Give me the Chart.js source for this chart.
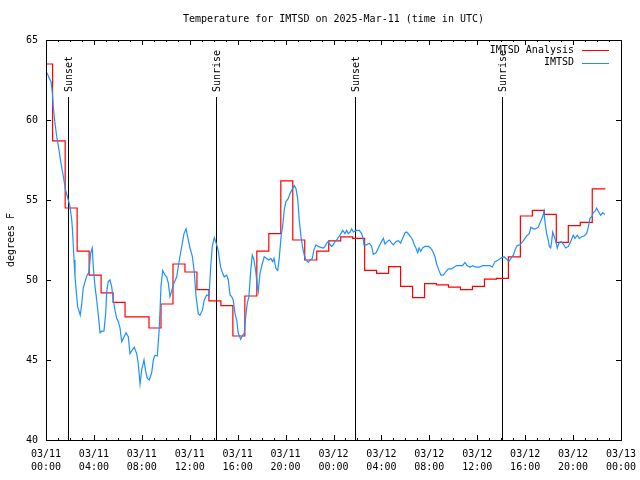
<!DOCTYPE html>
<html>
<head>
<meta charset="utf-8">
<title>Temperature for IMTSD on 2025-Mar-11</title>
<script src="https://cdn.jsdelivr.net/npm/chart.js@4.4.1/dist/chart.umd.min.js"></script>
<style>
  html, body { margin: 0; padding: 0; background: #fff; }
  canvas { display: block; }
</style>
</head>
<body>
<canvas id="myChart" width="640" height="480"></canvas>
<script>
const chartTitle = 'Temperature for IMTSD on 2025-Mar-11 (time in UTC)';
const yTitle = 'degrees F';

// x axis: hours since 03/11 00:00 UTC, labelled every 4 hours
const xTickLabels = [
    ['03/11', '00:00'], ['03/11', '04:00'], ['03/11', '08:00'], ['03/11', '12:00'],
    ['03/11', '16:00'], ['03/11', '20:00'], ['03/12', '00:00'], ['03/12', '04:00'],
    ['03/12', '08:00'], ['03/12', '12:00'], ['03/12', '16:00'], ['03/12', '20:00'],
    ['03/13', '00:00']
];

const sunHours = [1.85, 14.15, 25.8, 38.1];
const sunLabels = ['Sunset', 'Sunrise', 'Sunset', 'Sunrise'];

// IMTSD Analysis (hourly steps)
const redHours = [0, 0.55, 1.6, 2.6, 3.6, 4.6, 5.6, 6.6, 8.6, 9.6,
    10.6, 11.6, 12.6, 13.6, 14.6, 15.6, 16.6, 17.6, 18.6, 19.6,
    20.6, 21.6, 22.6, 23.6, 24.6, 25.6, 26.6, 27.6, 28.6, 29.6,
    30.6, 31.6, 32.6, 33.6, 34.6, 35.6, 36.6, 37.6, 38.6, 39.6,
    40.6, 41.6, 42.6, 43.6, 44.6, 45.6, 46.7];
const redTemps = [63.5, 58.7, 54.5, 51.8, 50.3, 49.2, 48.6, 47.7, 47.0, 48.5,
    51.0, 50.5, 49.4, 48.7, 48.4, 46.5, 49.0, 51.8, 52.9, 56.2,
    52.5, 51.25, 51.8, 52.45, 52.7, 52.6, 50.6, 50.42, 50.83, 49.6,
    48.9, 49.77, 49.7, 49.55, 49.4, 49.6, 50.05, 50.1, 51.45, 54.0,
    54.35, 54.1, 52.35, 53.4, 53.6, 55.7, 55.7];

// IMTSD observations
const blueHours = [
    0.00, 0.11, 0.28, 0.42, 0.53, 0.61, 0.75, 0.89, 1.09, 1.25,
    1.44, 1.64, 1.86, 2.00, 2.15, 2.23, 2.34, 2.42, 2.56, 2.65,
    2.78, 2.86, 2.98, 3.11, 3.26, 3.40, 3.59, 3.73, 3.86, 3.95,
    4.09, 4.23, 4.37, 4.51, 4.65, 4.84, 4.98, 5.07, 5.20, 5.34,
    5.48, 5.62, 5.76, 5.90, 6.04, 6.18, 6.32, 6.45, 6.68, 6.87,
    7.01, 7.18, 7.37, 7.57, 7.70, 7.85, 7.99, 8.18, 8.32, 8.46,
    8.62, 8.82, 8.96, 9.10, 9.29, 9.43, 9.52, 9.60, 9.74, 9.93,
    10.08, 10.21, 10.35, 10.49, 10.63, 10.91, 11.13, 11.33, 11.52, 11.69,
    11.83, 12.02, 12.21, 12.38, 12.52, 12.71, 12.85, 13.05, 13.21, 13.41,
    13.61, 13.75, 13.88, 14.05, 14.25, 14.38, 14.58, 14.75, 14.88, 15.08,
    15.22, 15.36, 15.50, 15.63, 15.78, 15.92, 16.05, 16.25, 16.42, 16.55,
    16.67, 16.80, 16.94, 17.09, 17.22, 17.36, 17.50, 17.64, 17.72, 17.86,
    18.05, 18.22, 18.42, 18.61, 18.76, 18.92, 19.03, 19.20, 19.34, 19.47,
    19.62, 19.76, 19.89, 20.03, 20.23, 20.37, 20.51, 20.73, 20.87, 21.01,
    21.14, 21.29, 21.43, 21.56, 21.70, 21.90, 22.04, 22.23, 22.37, 22.54,
    22.73, 22.93, 23.15, 23.29, 23.43, 23.56, 23.71, 23.85, 23.98, 24.12,
    24.26, 24.54, 24.77, 24.96, 25.10, 25.23, 25.38, 25.52, 25.65, 25.93,
    26.15, 26.35, 26.49, 26.54, 26.77, 26.99, 27.19, 27.32, 27.55, 27.74,
    27.94, 28.16, 28.30, 28.49, 28.66, 28.86, 28.99, 29.22, 29.41, 29.61,
    29.77, 29.97, 30.11, 30.24, 30.44, 30.61, 30.74, 30.88, 31.03, 31.14,
    31.28, 31.44, 31.64, 31.91, 32.11, 32.28, 32.47, 32.61, 32.80, 32.97,
    33.16, 33.36, 33.58, 33.86, 34.06, 34.28, 34.56, 34.78, 34.97, 35.17,
    35.39, 35.62, 35.89, 36.17, 36.45, 36.79, 37.06, 37.25, 37.48, 37.76,
    38.04, 38.23, 38.46, 38.65, 38.81, 39.01, 39.17, 39.34, 39.57, 39.79,
    39.98, 40.18, 40.34, 40.48, 40.68, 40.88, 41.09, 41.29, 41.46, 41.57,
    41.65, 41.79, 41.93, 42.01, 42.13, 42.21, 42.30, 42.43, 42.57, 42.68,
    42.82, 42.99, 43.18, 43.38, 43.60, 43.80, 44.01, 44.16, 44.35, 44.52,
    44.72, 44.91, 45.13, 45.27, 45.41, 45.55, 45.68, 45.83, 45.97, 46.10,
    46.30, 46.47, 46.66
];
const blueTemps = [
    63.0, 62.9, 62.6, 62.4, 61.7, 60.8, 59.8, 59.0, 58.1, 57.3,
    56.5, 55.6, 55.0, 54.6, 53.75, 52.9, 51.25, 50.2, 49.0, 48.3,
    48.0, 47.8, 48.5, 49.5, 49.9, 50.25, 50.5, 51.7, 52.0, 50.8,
    49.6, 48.75, 47.8, 46.7, 46.8, 46.8, 47.9, 49.3, 49.9, 50.0,
    49.6, 48.75, 48.1, 47.6, 47.4, 47.0, 46.15, 46.35, 46.7, 46.45,
    45.4, 45.6, 45.8, 45.4, 44.8, 43.5, 44.4, 45.0, 44.3, 43.85,
    43.75, 44.2, 45.0, 45.3, 45.25, 46.7, 48.1, 49.6, 50.6, 50.3,
    50.2, 49.8, 48.96, 49.3, 49.7, 50.2, 51.25, 52.1, 52.9, 53.2,
    52.7, 52.0, 51.5, 50.5, 49.0, 47.9, 47.8, 48.1, 48.75, 49.06,
    49.0, 50.8, 52.1, 52.65, 52.2, 51.8, 50.8, 50.4, 50.2, 50.3,
    50.0, 49.06, 48.96, 48.75, 47.9, 47.5, 46.67, 46.3, 46.56, 46.67,
    47.7, 48.54, 48.96, 50.6, 51.56, 51.25, 50.6, 49.6, 49.27, 50.4,
    51.0, 51.46, 51.35, 51.25, 51.35, 51.15, 51.35, 50.7, 50.6, 51.35,
    52.7, 53.4, 54.4, 54.9, 55.1, 55.4, 55.6, 55.9, 55.7, 55.1,
    53.75, 52.7, 52.0, 51.56, 51.25, 51.1, 51.25, 51.35, 51.9, 52.2,
    52.1, 52.04, 52.0, 52.1, 52.3, 52.4, 52.2, 52.1, 52.2, 52.4,
    52.5, 52.8, 53.1, 52.9, 53.1, 52.9, 53.0, 53.2, 53.0, 53.1,
    53.1, 52.9, 52.5, 52.2, 52.2, 52.3, 52.1, 51.6, 51.7, 52.0,
    52.3, 52.6, 52.25, 52.4, 52.5, 52.3, 52.2, 52.4, 52.45, 52.3,
    52.6, 52.95, 53.0, 52.9, 52.7, 52.5, 52.2, 52.0, 51.7, 52.0,
    51.8, 52.0, 52.1, 52.1, 52.0, 51.8, 51.45, 51.0, 50.6, 50.3,
    50.3, 50.5, 50.7, 50.7, 50.8, 50.9, 50.9, 50.9, 51.1, 50.9,
    50.8, 50.9, 50.8, 50.8, 50.9, 50.9, 50.9, 50.8, 51.15, 51.25,
    51.4, 51.45, 51.3, 51.15, 51.35, 51.55, 51.9, 52.15, 52.2, 52.4,
    52.6, 52.8, 52.9, 53.3, 53.2, 53.2, 53.3, 53.65, 53.95, 54.3,
    53.65, 52.9, 52.5, 52.1, 52.0, 52.4, 53.0, 52.7, 52.4, 52.0,
    52.3, 52.4, 52.25, 52.0, 52.1, 52.4, 52.8, 52.6, 52.8, 52.6,
    52.7, 52.75, 52.9, 53.3, 53.85, 53.95, 54.2, 54.3, 54.5, 54.3,
    54.05, 54.2, 54.1
];

const RED = '#ff0000';
const BLUE = '#1e90ff';
const FONT_FAMILY = '"DejaVu Sans Mono", "Liberation Mono", monospace';
const FONT = '10px ' + FONT_FAMILY;

const toPoints = (hours, temps) => hours.map((h, i) => ({ x: h, y: temps[i] }));

// gnuplot-ish extras: border with inward ticks, sun lines, title, legend
const gnuplotBits = {
    id: 'gnuplotBits',
    beforeDatasetsDraw(chart) {
        const { ctx, chartArea: a, scales: { x } } = chart;
        ctx.save();
        ctx.strokeStyle = '#000';
        ctx.fillStyle = '#000';
        ctx.lineWidth = 1;
        ctx.font = FONT;
        sunHours.forEach((h, i) => {
            const px = Math.round(x.getPixelForValue(h)) + 0.5;
            ctx.beginPath();
            ctx.moveTo(px, a.bottom);
            ctx.lineTo(px, a.top + 57);
            ctx.stroke();
            ctx.save();
            ctx.translate(px + 1, a.top + 52);
            ctx.rotate(-Math.PI / 2);
            ctx.textAlign = 'left';
            ctx.textBaseline = 'middle';
            ctx.fillText(sunLabels[i], 0, 0);
            ctx.restore();
        });
        ctx.restore();
    },
    afterDraw(chart) {
        const { ctx, chartArea: a, scales: { x, y } } = chart;
        ctx.save();
        ctx.strokeStyle = '#000';
        ctx.fillStyle = '#000';
        ctx.lineWidth = 1;

        // border
        ctx.strokeRect(a.left + 0.5, a.top + 0.5, a.right - a.left, a.bottom - a.top);

        // x ticks, every hour, longer every 4 hours, mirrored on top
        ctx.beginPath();
        for (let h = 0; h <= 48; h++) {
            const px = Math.round(x.getPixelForValue(h)) + 0.5;
            const len = h % 4 === 0 ? 5 : 2;
            ctx.moveTo(px, a.bottom);
            ctx.lineTo(px, a.bottom - len);
            ctx.moveTo(px, a.top);
            ctx.lineTo(px, a.top + len);
        }
        // y ticks, mirrored on right
        y.ticks.forEach(t => {
            const py = Math.round(y.getPixelForValue(t.value)) + 0.5;
            ctx.moveTo(a.left, py);
            ctx.lineTo(a.left + 5, py);
            ctx.moveTo(a.right, py);
            ctx.lineTo(a.right - 5, py);
        });
        ctx.stroke();

        ctx.font = FONT;
        // title
        ctx.textAlign = 'center';
        ctx.textBaseline = 'middle';
        ctx.fillText(chartTitle, (a.left + a.right) / 2, 19);

        // y axis title
        ctx.save();
        ctx.translate(11, (a.top + a.bottom) / 2);
        ctx.rotate(-Math.PI / 2);
        ctx.fillText(yTitle, 0, 0);
        ctx.restore();

        // legend
        chart.data.datasets.forEach((ds, i) => {
            const ly = a.top + 10 + i * 12.5;
            ctx.textAlign = 'right';
            ctx.fillStyle = '#000';
            ctx.fillText(ds.label, a.right - 47, ly);
            ctx.strokeStyle = ds.borderColor;
            ctx.beginPath();
            ctx.moveTo(a.right - 39, Math.round(ly) + 0.5);
            ctx.lineTo(a.right - 12, Math.round(ly) + 0.5);
            ctx.stroke();
        });
        ctx.restore();
    }
};

const ctx = document.getElementById('myChart').getContext('2d');
new Chart(ctx, {
    type: 'line',
    data: {
        datasets: [{
            label: 'IMTSD Analysis',
            data: toPoints(redHours, redTemps),
            borderColor: RED,
            borderWidth: 1.2,
            pointRadius: 0,
            stepped: true,
            fill: false,
            order: 1
        }, {
            label: 'IMTSD',
            data: toPoints(blueHours, blueTemps),
            borderColor: BLUE,
            borderWidth: 1.2,
            pointRadius: 0,
            tension: 0,
            fill: false,
            order: 0
        }]
    },
    options: {
        responsive: false,
        animation: false,
        events: [],
        layout: { padding: { top: 40, right: 19, left: 0, bottom: 0 } },
        plugins: {
            legend: { display: false },
            title: { display: false },
            tooltip: { enabled: false }
        },
        scales: {
            x: {
                type: 'linear',
                min: 0,
                max: 48,
                afterFit: s => {
                    s.height = 40;
                    s.paddingLeft = 0;
                    s.paddingRight = 0;
                },
                afterBuildTicks: s => { s.ticks = xTickLabels.map((l, i) => ({ value: i * 4 })); },
                grid: { display: false, drawTicks: false },
                border: { display: false },
                ticks: {
                    maxRotation: 0,
                    autoSkip: false,
                    padding: 8,
                    color: '#000',
                    font: { family: FONT_FAMILY, size: 10, lineHeight: 1.3 },
                    callback: (v, i) => xTickLabels[i]
                }
            },
            y: {
                min: 40,
                max: 65,
                afterFit: s => {
                    s.width = 46;
                    s.paddingTop = 0;
                    s.paddingBottom = 0;
                },
                grid: { display: false, drawTicks: false },
                border: { display: false },
                ticks: {
                    stepSize: 5,
                    padding: 8,
                    color: '#000',
                    font: { family: FONT_FAMILY, size: 10 }
                }
            }
        }
    },
    plugins: [gnuplotBits]
});
</script>
</body>
</html>
